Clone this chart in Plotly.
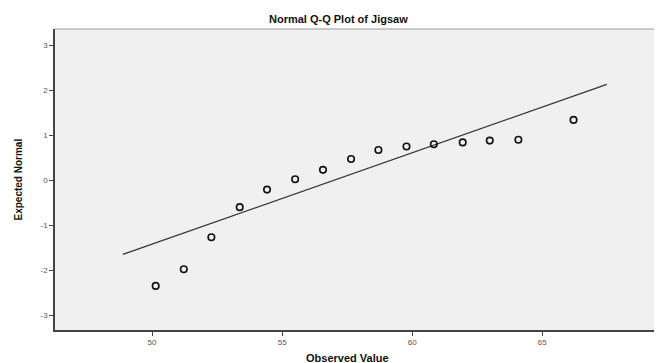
import plotly.graph_objects as go

observed = [50.14, 51.22, 52.28, 53.37, 54.42, 55.5, 56.57, 57.65, 58.7, 59.78, 60.83, 61.94, 62.98, 64.08, 66.2]
expected = [-2.35, -1.98, -1.27, -0.6, -0.21, 0.02, 0.23, 0.47, 0.67, 0.75, 0.8, 0.84, 0.88, 0.9, 1.34]
line_x = [48.88, 67.48]
line_y = [-1.65, 2.13]
x_ticks = [50, 55, 60, 65]
y_ticks = [-3, -2, -1, 0, 1, 2, 3]
y_tick_labels = ["-3", "-2", "-1", "0", "1", "2", "3"]

fig = go.Figure()
fig.add_trace(go.Scatter(x=line_x, y=line_y, mode="lines",
                         line=dict(color="#333333", width=1.2), showlegend=False))
fig.add_trace(go.Scatter(x=observed, y=expected, mode="markers",
                         marker=dict(symbol="circle-open", size=6.5, color="#111111",
                                     line=dict(width=1.6, color="#111111")),
                         showlegend=False))

# page body has an 8px margin, so the figure is 8px smaller than the window
fig.update_layout(
    width=654, height=355,
    margin=dict(l=47, r=0, t=21, b=33),
    paper_bgcolor="white", plot_bgcolor="#f0f0f0",
    font=dict(family="Liberation Sans, Arial, sans-serif", color="#222222"),
    xaxis=dict(range=[46.27, 69.6], tickvals=x_ticks, showgrid=False, zeroline=False,
               showline=True, linecolor="#444444", linewidth=1.5,
               ticks="outside", ticklen=4, tickcolor="#444444",
               tickfont=dict(size=8, color="#555555")),
    yaxis=dict(range=[-3.33, 3.36], tickvals=y_ticks, ticktext=y_tick_labels,
               showgrid=False, zeroline=False,
               showline=True, linecolor="#444444", linewidth=1.5,
               ticks="outside", ticklen=4, tickcolor="#444444",
               tickfont=dict(size=8, color="#555555")),
    shapes=[dict(type="line", xref="paper", yref="paper", x0=0, x1=1, y0=1, y1=1,
                 line=dict(color="#999999", width=1))],
    annotations=[
        dict(text="<b>Normal Q-Q Plot of Jigsaw</b>", xref="paper", yref="paper",
             x=(338 - 55) / 607, y=1, yanchor="bottom", yshift=2, showarrow=False,
             font=dict(size=11, color="#111111")),
        dict(text="<b>Observed Value</b>", xref="paper", yref="paper",
             x=(347 - 55) / 607, y=0, yanchor="top", yshift=-20, showarrow=False,
             font=dict(size=11, color="#111111")),
        dict(text="<b>Expected Normal</b>", xref="paper", yref="paper",
             x=0, xanchor="center", xshift=-37, y=0.5, textangle=-90, showarrow=False,
             font=dict(size=10, color="#111111")),
    ],
)

fig.write_html("out.html")
